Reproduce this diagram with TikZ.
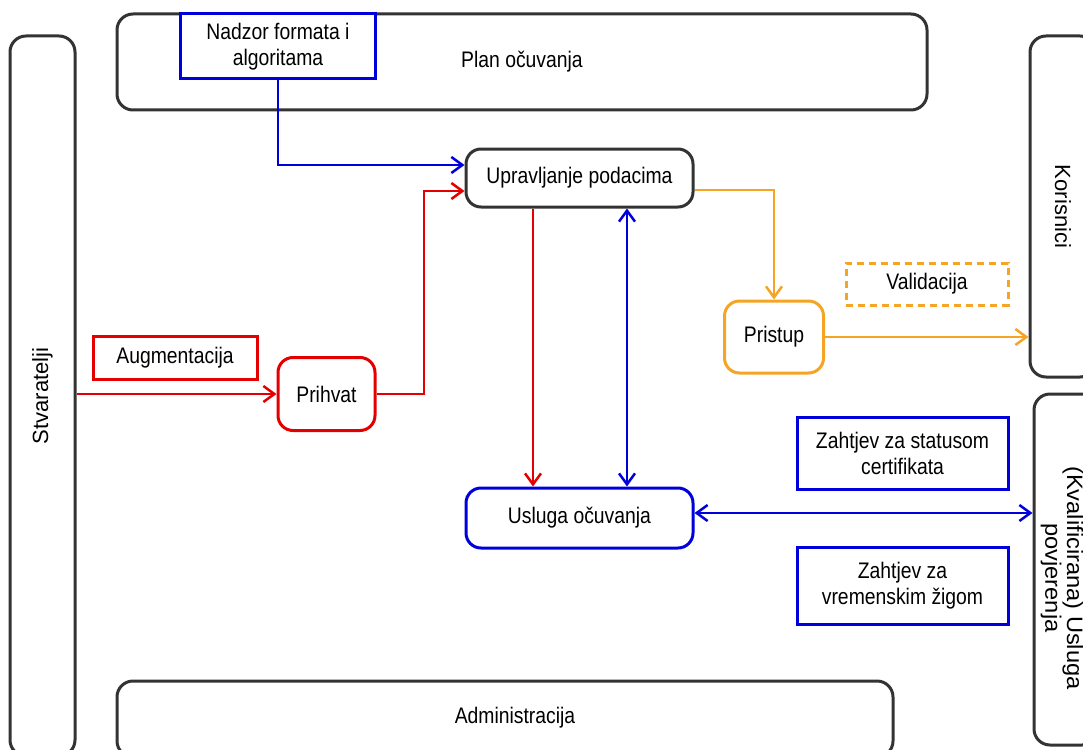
\documentclass[tikz,border=0pt]{standalone}
\usepackage{fontspec}
\setmainfont{Liberation Sans}[FakeStretch=0.86]
\newfontfamily\rotfont{Liberation Sans}
\newfontfamily\trustfont{Liberation Sans}[FakeStretch=1.06]
\usetikzlibrary{arrows.meta}
\definecolor{cblue}{RGB}{0,0,220}
\definecolor{cred}{RGB}{228,0,0}
\definecolor{corange}{RGB}{245,165,35}
\definecolor{cdark}{RGB}{51,51,51}
\begin{document}
\begin{tikzpicture}[x=1pt,y=-1pt,
  every node/.style={font=\fontsize{22.5}{26}\selectfont, inner sep=0pt, align=center, text=black},
  lane/.style={draw=cdark, line width=3pt, rounded corners=16pt},
  rottext/.style={font=\rotfont\fontsize{22}{26}\selectfont},
  proc/.style={line width=3pt, rounded corners=15pt},
  tagbox/.style={line width=3pt},
  tip/.tip={Straight Barb[length=11pt,width=16pt,line width=2.5pt]},
  conn/.style={line width=2pt, -tip},
  bconn/.style={line width=2pt, tip-tip},
]
\useasboundingbox (0,0) rectangle (1083,749);
\clip (0,0) rectangle (1083,749);

% lanes
\node[lane, rottext, rotate=90, minimum width=720pt, minimum height=65pt] (stv) at (42.5,396) {Stvaratelji};
\node[lane, minimum width=810pt, minimum height=96pt] (plan) at (522,62) {Plan očuvanja};
\node[lane, rottext, rotate=-90, minimum width=341pt, minimum height=66pt] (kor) at (1063,206.5) {Korisnici};
\node[lane, rotate=-90, minimum width=351pt, minimum height=64pt] (trust) at (1066,569.5) {};
\node[rotate=-90, font=\trustfont\fontsize{22.3}{19}\selectfont] (trustlbl) at (1062,578) {(Kvalificirana) Usluga\\povjerenja};
\node[lane, minimum width=776pt, minimum height=76pt] (admin) at (505,719) {};
\node (adminlbl) at (515,718) {Administracija};

% tags
\node[tagbox, draw=cblue, fill=white, minimum width=195pt, minimum height=65pt] (nadzor) at (278,46.5) {Nadzor formata i\\algoritama};
\node[tagbox, draw=cred, minimum width=164pt, minimum height=43pt] (aug) at (175,357.5) {Augmentacija};
\node[tagbox, draw=corange, dashed, dash pattern=on 7pt off 5pt, minimum width=162pt, minimum height=42pt] (val) at (927,284) {Validacija};
\node[tagbox, draw=cblue, minimum width=211pt, minimum height=72pt] (stat) at (902.5,453) {Zahtjev za statusom\\certifikata};
\node[tagbox, draw=cblue, minimum width=211pt, minimum height=77pt] (vrem) at (902.5,586) {Zahtjev za\\vremenskim žigom};

% processes
\node[proc, draw=cdark, minimum width=227pt, minimum height=58pt] (upr) at (579.5,178) {Upravljanje podacima};
\node[proc, draw=cblue, minimum width=227pt, minimum height=60pt] (usl) at (579.5,518) {Usluga očuvanja};
\node[proc, draw=cred, minimum width=97pt, minimum height=73pt] (pri) at (326.5,394) {Prihvat};
\node[proc, draw=corange, minimum width=99pt, minimum height=72pt] (pris) at (774,337) {Pristup};

% connectors
\draw[conn, cblue] (nadzor.south) |- ([yshift=13pt]upr.west);
\draw[conn, cred] (pri.west -| stv.south) -- (pri.west);
\draw[conn, cred] (pri.east) -- ++(47,0) |- ([yshift=-13pt]upr.west);
\draw[conn, cred] ([xshift=-46.5pt]upr.south) -- ([xshift=-46.5pt]usl.north);
\draw[bconn, cblue] ([xshift=47.5pt]upr.south) -- ([xshift=47.5pt]usl.north);
\draw[conn, corange] ([yshift=-12pt]upr.east) -| (pris.north);
\draw[conn, corange] (pris.east) -- (pris.east -| kor.south);
\draw[bconn, cblue] ([yshift=5pt]usl.east) -- ([yshift=5pt]usl.east -| trust.south);
\end{tikzpicture}
\end{document}
